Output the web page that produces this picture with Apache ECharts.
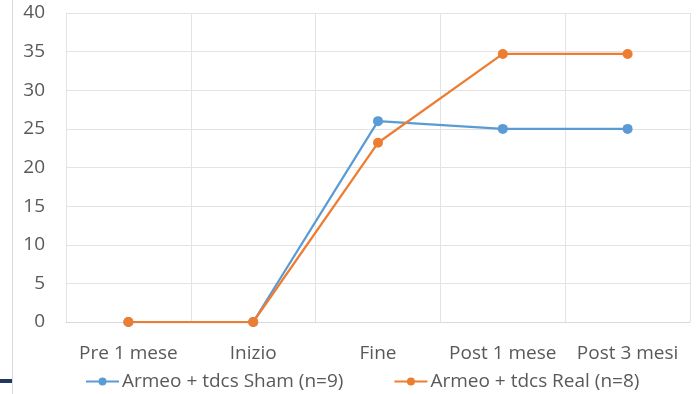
<!DOCTYPE html>
<html><head><meta charset="utf-8">
<script src="https://cdn.jsdelivr.net/npm/echarts@6/dist/echarts.min.js"></script>
<style>html,body{margin:0;padding:0;background:#fff}#c{width:697px;height:394px}</style>
</head><body><div id="c"></div>
<script>
const categories = ["Pre 1 mese", "Inizio", "Fine", "Post 1 mese", "Post 3 mesi"];
const shamName = "Armeo + tdcs Sham (n=9)";
const realName = "Armeo + tdcs Real (n=8)";
const shamValues = [0, 0, 26, 25, 25];
const realValues = [0, 0, 23.2, 34.7, 34.7];
const yTicks = { min: 0, max: 40, interval: 5 };

const font = "'Open Sans', sans-serif";
const chart = echarts.init(document.getElementById('c'), null, {renderer: 'canvas'});
chart.setOption({
  animation: false,
  backgroundColor: '#fff',
  grid: { left: 66, right: 7, top: 13, bottom: 72, containLabel: false },
  legend: {
    top: 372, left: 85, padding: 0, itemGap: 50, itemWidth: 33, itemHeight: 10,
    textStyle: { fontFamily: font, fontSize: 19, color: '#595959', padding: [0, 0, 0, -2] },
    data: [shamName, realName]
  },
  xAxis: {
    type: 'category', data: categories, boundaryGap: true,
    axisLine: { show: true, lineStyle: { color: '#d9d9d9' } },
    axisTick: { show: false },
    splitLine: { show: true, lineStyle: { color: '#e3e3e3' } },
    axisLabel: { fontFamily: font, fontSize: 19, color: '#595959', margin: 22, interval: 0 }
  },
  yAxis: {
    type: 'value', min: yTicks.min, max: yTicks.max, interval: yTicks.interval,
    axisLine: { show: true, lineStyle: { color: '#e3e3e3' } },
    axisTick: { show: false },
    splitLine: { lineStyle: { color: '#e3e3e3' } },
    axisLabel: { fontFamily: font, fontSize: 19, color: '#595959', margin: 21 }
  },
  series: [
    { name: shamName, type: 'line', data: shamValues, color: '#5B9BD5',
      symbol: 'circle', symbolSize: 10, lineStyle: { width: 2.25 } },
    { name: realName, type: 'line', data: realValues, color: '#ED7D31',
      symbol: 'circle', symbolSize: 10, lineStyle: { width: 2.25 } }
  ],
  graphic: [
    { type: 'rect', shape: { x: 12, y: 0, width: 1, height: 394 }, style: { fill: '#d9d9d9' } },
    { type: 'rect', shape: { x: 0, y: 379, width: 12, height: 4 }, style: { fill: '#1f3864' } }
  ]
});
</script></body></html>
